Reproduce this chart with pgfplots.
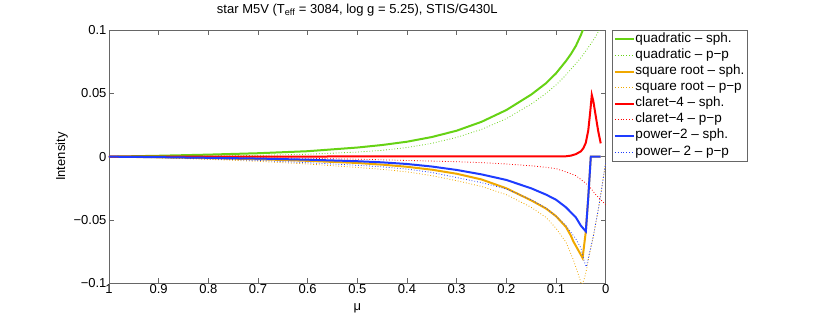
\documentclass[border=0pt]{standalone}
\usepackage{fontspec}
\setmainfont{Liberation Sans}
\usepackage{pgfplots}
\pgfplotsset{compat=1.18}
\definecolor{cgreen}{RGB}{102,210,20}
\definecolor{corange}{RGB}{240,168,0}
\definecolor{cred}{RGB}{255,0,0}
\definecolor{cblue}{RGB}{30,60,255}
\pgfplotstableread{
mu y
1 0
0.9 0.0007
0.8 0.0016
0.7 0.0027
0.6 0.0043
0.5 0.0072
0.45 0.0092
0.4 0.0118
0.35 0.0155
0.3 0.0205
0.25 0.0275
0.2 0.0368
0.15 0.049
0.12 0.058
0.1 0.0658
0.08 0.0755
0.07 0.081
0.06 0.0875
0.05 0.096
0.045 0.101
}\quadsph
\pgfplotstableread{
mu y
1 0
0.9 0.0002
0.8 0.0005
0.7 0.0010
0.6 0.0019
0.5 0.0036
0.45 0.005
0.4 0.0072
0.35 0.0105
0.3 0.0152
0.25 0.0215
0.2 0.0300
0.15 0.0415
0.12 0.050
0.1 0.0566
0.08 0.0645
0.06 0.0735
0.05 0.078
0.04 0.0835
0.03 0.089
0.02 0.095
0.01 0.102
}\quadpp
\pgfplotstableread{
mu y
1 0
0.9 -0.0005
0.8 -0.0012
0.7 -0.002
0.6 -0.0033
0.5 -0.005
0.45 -0.0063
0.4 -0.0080
0.35 -0.0103
0.3 -0.0135
0.25 -0.018
0.2 -0.025
0.15 -0.0345
0.12 -0.041
0.1 -0.047
0.08 -0.0555
0.07 -0.0625
0.065 -0.067
0.055 -0.074
0.0465 -0.080
0.040 -0.059
0.035 -0.0316
0.030 0
0.010 0
}\sqrtsph
\pgfplotstableread{
mu y
1 0
0.9 -0.0009
0.8 -0.0021
0.7 -0.0037
0.6 -0.0058
0.5 -0.0085
0.45 -0.0100
0.4 -0.012
0.35 -0.015
0.3 -0.019
0.25 -0.0235
0.2 -0.030
0.15 -0.040
0.12 -0.048
0.1 -0.0566
0.08 -0.0675
0.065 -0.0816
0.055 -0.093
0.048 -0.102
0.042 -0.095
0.038 -0.088
0.032 -0.076
0.025 -0.063
0.015 -0.042
0.008 -0.025
0.003 -0.012
0 -0.005
}\sqrtpp
\pgfplotstableread{
mu y
1 0
0.8 0
0.6 0.0001
0.4 0.0002
0.2 0.0002
0.1 0.0002
0.08 0.0003
0.07 0.0008
0.06 0.002
0.05 0.0042
0.045 0.0066
0.04 0.011
0.035 0.021
0.031 0.036
0.028 0.0487
0.025 0.044
0.02 0.032
0.015 0.020
0.010 0.0105
}\clarsph
\pgfplotstableread{
mu y
1 0
0.8 -0.0005
0.6 -0.0013
0.5 -0.002
0.4 -0.003
0.3 -0.004
0.25 -0.0047
0.2 -0.0058
0.15 -0.0072
0.12 -0.0084
0.1 -0.0095
0.08 -0.012
0.06 -0.015
0.05 -0.018
0.04 -0.021
0.03 -0.025
0.02 -0.030
0.01 -0.034
0 -0.038
}\clarpp
\pgfplotstableread{
mu y
1 0
0.9 -0.0004
0.8 -0.0009
0.7 -0.0015
0.6 -0.0024
0.5 -0.0036
0.45 -0.0045
0.4 -0.0058
0.35 -0.0078
0.3 -0.0105
0.25 -0.014
0.2 -0.0184
0.15 -0.025
0.12 -0.030
0.1 -0.034
0.08 -0.040
0.06 -0.048
0.05 -0.0545
0.04 -0.059
0.035 -0.0316
0.030 0
0.010 0
}\powsph
\pgfplotstableread{
mu y
1 0
0.9 -0.0007
0.8 -0.0017
0.7 -0.003
0.6 -0.0048
0.5 -0.0068
0.45 -0.008
0.4 -0.0098
0.35 -0.0125
0.3 -0.0165
0.25 -0.0205
0.2 -0.0255
0.15 -0.034
0.12 -0.0405
0.1 -0.047
0.08 -0.0545
0.06 -0.065
0.05 -0.072
0.043 -0.083
0.039 -0.087
0.032 -0.075
0.025 -0.063
0.015 -0.042
0.008 -0.025
0.003 -0.012
0 -0.005
}\powpp
\begin{document}
\begin{tikzpicture}[font=\fontsize{13}{15}\selectfont]
\useasboundingbox (0,0) rectangle (830pt,319pt);
\begin{axis}[
  at={(109pt,35.7pt)}, anchor=south west,
  scale only axis, width=496.7pt, height=253.3pt,
  x dir=reverse, xmin=0, xmax=1, ymin=-0.1, ymax=0.1,
  xtick={0,0.1,0.2,0.3,0.4,0.5,0.6,0.7,0.8,0.9,1},
  xticklabels={0,0.1,0.2,0.3,0.4,0.5,0.6,0.7,0.8,0.9,1},
  ytick={-0.1,-0.05,0,0.05,0.1},
  yticklabels={−0.1,−0.05,0,0.05,0.1},
  tick align=inside, major tick length=5pt,
  axis line style={black!60, line width=0.8pt},
  tick style={black!60, line width=0.6pt},
  every tick label/.append style={font=\fontsize{13}{15}\selectfont, text=black},
  xticklabel style={yshift=2pt},
  yticklabel style={xshift=1pt},
  title={star M5V (T\textsubscript{eff} = 3084, log g = 5.25), STIS/G430L},
  title style={at={(axis description cs:0.5,1.066)}, anchor=base, yshift=-6pt, font=\fontsize{13}{15}\selectfont},
  xlabel={μ},
  xlabel style={at={(axis description cs:0.5,-0.1)}, anchor=center, font=\fontsize{13}{15}\selectfont},
  ylabel={Intensity},
  ylabel style={at={(axis description cs:-0.095,0.5)}, anchor=center, font=\fontsize{13}{15}\selectfont},
  legend cell align=left,
  legend style={at={(axis description cs:1,1)}, anchor=north west, xshift=6pt,
    draw=black!60, line width=0.6pt, fill=white, font=\fontsize{13.5}{15}\selectfont,
    inner xsep=2pt, inner ysep=3pt, row sep=4.1pt,
    nodes={inner sep=0.5pt, text height=8.5pt, text depth=2.5pt}},
  legend image code/.code={\draw[#1] (0pt,0pt) -- (19pt,0pt);},
]
\addplot[color=cgreen, draw=cgreen, line width=2pt] table[x=mu,y=y] {\quadsph};
\addlegendentry{quadratic – sph.}
\addplot[color=cgreen, draw=cgreen, line width=0.8pt, dash pattern=on 0.8pt off 2pt] table[x=mu,y=y] {\quadpp};
\addlegendentry{quadratic – p−p}
\addplot[color=corange, draw=corange, line width=2pt] table[x=mu,y=y] {\sqrtsph};
\addlegendentry{square root – sph.}
\addplot[color=corange, draw=corange, line width=0.8pt, dash pattern=on 0.8pt off 2pt] table[x=mu,y=y] {\sqrtpp};
\addlegendentry{square root – p−p}
\addplot[color=cred, draw=cred, line width=2pt] table[x=mu,y=y] {\clarsph};
\addlegendentry{claret−4 – sph.}
\addplot[color=cred, draw=cred, line width=0.8pt, dash pattern=on 0.8pt off 2pt] table[x=mu,y=y] {\clarpp};
\addlegendentry{claret−4 – p−p}
\addplot[color=cblue, draw=cblue, line width=2pt] table[x=mu,y=y] {\powsph};
\addlegendentry{power−2 – sph.}
\addplot[color=cblue, draw=cblue, line width=0.8pt, dash pattern=on 0.8pt off 2pt] table[x=mu,y=y] {\powpp};
\addlegendentry{power– 2 – p−p}
\end{axis}
\end{tikzpicture}
\end{document}
